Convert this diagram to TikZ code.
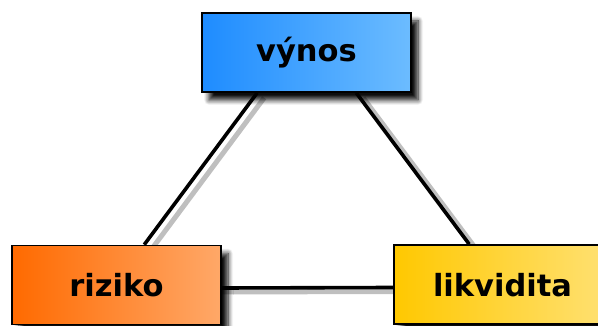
\documentclass[tikz,border=0pt]{standalone}
\usepackage{fontspec}
\setmainfont{DejaVu Sans}
\usetikzlibrary{shadows.blur,calc}
\pgfdeclarelayer{background}
\pgfsetlayers{background,main}
\definecolor{blueL}{HTML}{1E8CFF}
\definecolor{blueR}{HTML}{6CBCFF}
\definecolor{orL}{HTML}{FF6A00}
\definecolor{orR}{HTML}{FFA868}
\definecolor{yeL}{HTML}{FFC800}
\definecolor{yeR}{HTML}{FFE070}
\tikzset{
  box/.style={draw=black, line width=1.6pt, minimum width=209pt, minimum height=79pt,
    inner sep=0pt, font=\fontsize{30.5}{32}\selectfont\bfseries,
    blur shadow={shadow xshift=7pt, shadow yshift=-8pt, shadow blur steps=8, shadow opacity=95, shadow blur radius=5pt}},
  link/.style={line width=3.6pt, black},
  linkshadow/.style={line width=5pt, black!25}
}
\begin{document}
\begin{tikzpicture}[x=1pt,y=-1pt]
\useasboundingbox (0,0) rectangle (598,326);
\node[box, left color=blueL, right color=blueR] (v) at (306.5,52.5) {výnos};
\node[box, left color=orL, right color=orR] (r) at (116.5,285) {riziko};
\node[box, left color=yeL, right color=yeR, text depth=0pt] (l) at (498.5,284.5) {\hspace*{8pt}likvidita};
\begin{pgfonlayer}{background}
\draw[linkshadow] ($(v.south west)+(63,5)$) -- ($(r.north west)+(140,5)$);
\draw[linkshadow] ($(v.south west)+(162,5)$) -- ($(l.north west)+(83,5)$);
\draw[linkshadow] ($(r.east)+(0,7)$) -- ($(l.west)+(0,7)$);
\draw[link] ($(v.south west)+(56,0)$) -- ($(r.north west)+(133,0)$);
\draw[link] ($(v.south west)+(155,0)$) -- ($(l.north west)+(76,0)$);
\draw[link] ($(r.east)+(0,3)$) -- ($(l.west)+(0,3)$);
\end{pgfonlayer}
\end{tikzpicture}
\end{document}
